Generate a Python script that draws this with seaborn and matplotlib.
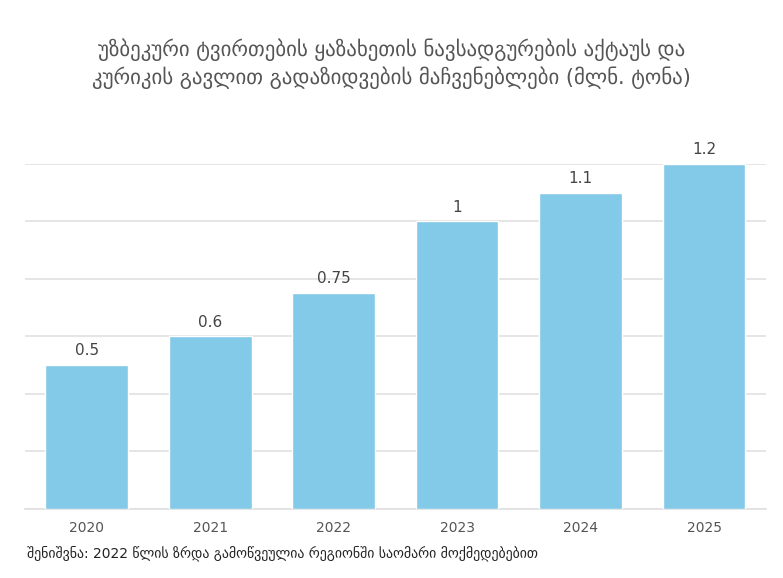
import pandas as pd
import matplotlib.pyplot as plt
import seaborn as sns

years = ["2020", "2021", "2022", "2023", "2024", "2025"]
values = [0.5, 0.6, 0.75, 1, 1.1, 1.2]
value_labels = ["0.5", "0.6", "0.75", "1", "1.1", "1.2"]

title = ("უზბეკური ტვირთების ყაზახეთის ნავსადგურების აქტაუს და\n"
         "კურიკის გავლით გადაზიდვების მაჩვენებლები (მლნ. ტონა)")
note = "შენიშვნა: 2022 წლის ზრდა გამოწვეულია რეგიონში საომარი მოქმედებებით"

df = pd.DataFrame({"year": years, "value": values})

sns.set_style("white")
plt.rcParams['font.family'] = ['DejaVu Sans']

fig = plt.figure(figsize=(7.83, 5.78), dpi=100)
ax = fig.add_axes([0.032, 0.1194, 0.946, 0.5969])

sns.barplot(x="year", y="value", data=df, color="#83C9E8", width=0.67,
            saturation=1, ax=ax, zorder=3)

ax.set_ylim(0, 1.2)
ax.set_yticks([0, 0.2, 0.4, 0.6, 0.8, 1.0, 1.2])
ax.yaxis.grid(True, color="#e0e0e0", linewidth=1.2, zorder=0)
ax.set_axisbelow(True)
ax.tick_params(axis="y", left=False, labelleft=False)
ax.tick_params(axis="x", bottom=False, labelsize=10, labelcolor="#555555", pad=5)
for s in ["top", "right", "left"]:
    ax.spines[s].set_visible(False)
ax.spines["bottom"].set_color("#e0e0e0")
ax.spines["bottom"].set_linewidth(1.2)
ax.set_xlabel("")
ax.set_ylabel("")

# etiquetas encima de las barras
for i, lab in enumerate(value_labels):
    ax.annotate(lab, (i, values[i]), xytext=(0, 5), textcoords="offset points",
                ha="center", va="bottom", fontsize=11, color="#444444",
                annotation_clip=False)

fig.text(0.5, 0.89, title, ha="center", va="center", fontsize=15,
         color="#555555", linespacing=1.35)
fig.text(0.035, 0.043, note, ha="left", va="center", fontsize=10, color="#222222")

plt.savefig("out.png", dpi=100)
